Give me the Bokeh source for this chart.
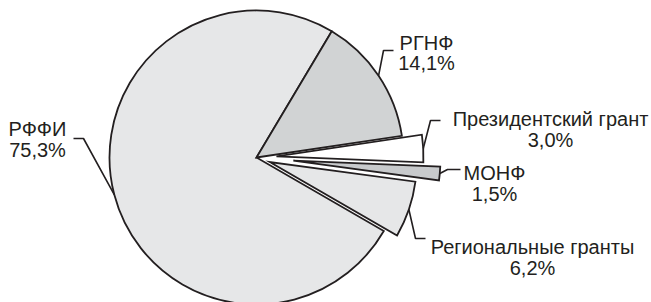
import math
from bokeh.plotting import figure
from bokeh.models import Range1d
from bokeh.core.properties import value
from bokeh.embed import file_html
from bokeh.resources import INLINE

# ---- data ----
names = ["РГНФ", "Президентский грант", "МОНФ", "Региональные гранты", "РФФИ"]
shares = [14.1, 3.0, 1.5, 6.2, 75.3]
pct_labels = ["14,1%", "3,0%", "1,5%", "6,2%", "75,3%"]

# ---- style / layout ----
colors = ["#d1d3d4", "#ffffff", "#c8cacc", "#e6e7e8", "#e6e7e8"]
explode = [0, 20, 37, 14, 0]
START_DEG = 59.2          # slices go clockwise from here
W, H = 651, 302
CX, CY = 256, 157         # pixel coords of pie centre
R = 147
INK = "#231f20"
FONT = "Liberation Sans"
FS = "20px"

def sy(y):  # pixel y (from top) -> data y
    return H - y

# label centres (x) and baselines (y) for name / percentage
label_x = [426, 550, 494, 532, 37]
name_base = [42, 118, 172, 246, 128]
pct_base = [62, 139, 193, 267, 149]
# leader elbow and end points
elbow = [(383, 50), (430, 120), (447, 169), (415, 238), (83, 138)]
lead_end = [(393, 50), (440, 120), (460, 169), (425, 238), (73, 138)]

p = figure(width=W, height=H, output_backend="svg", toolbar_location=None,
           x_range=Range1d(0, W), y_range=Range1d(0, H),
           min_border=0, outline_line_color=None)
p.axis.visible = False
p.grid.visible = False
p.background_fill_color = "white"

total = sum(shares)
cum = 0.0
wx, wy, sa, ea = [], [], [], []
lx, ly = [], []
for i, s in enumerate(shares):
    top = START_DEG - cum / total * 360.0
    bot = top - s / total * 360.0
    mid = math.radians((top + bot) / 2)
    ax = CX + explode[i] * math.cos(mid)
    ay = sy(CY) + explode[i] * math.sin(mid)
    wx.append(ax); wy.append(ay)
    sa.append(math.radians(bot)); ea.append(math.radians(top))
    anc = (ax + R * math.cos(mid), ay + R * math.sin(mid))
    lx.append([anc[0], elbow[i][0], lead_end[i][0]])
    ly.append([anc[1], sy(elbow[i][1]), sy(lead_end[i][1])])
    cum += s

order = [4, 0, 1, 2, 3]
p.wedge(x=[wx[i] for i in order], y=[wy[i] for i in order], radius=R,
        start_angle=[sa[i] for i in order], end_angle=[ea[i] for i in order],
        fill_color=[colors[i] for i in order], line_color=INK, line_width=1.8,
        line_join="miter")

p.multi_line(xs=lx, ys=ly, line_color=INK, line_width=1.6)

p.text(x=label_x, y=[sy(v) for v in name_base], text=names,
       text_font=value(FONT), text_font_size=FS, text_color=INK,
       text_align="center", text_baseline="alphabetic")
p.text(x=label_x, y=[sy(v) for v in pct_base], text=pct_labels,
       text_font=value(FONT), text_font_size=FS, text_color=INK,
       text_align="center", text_baseline="alphabetic")

open("out.html", "w").write(file_html(p, INLINE))
